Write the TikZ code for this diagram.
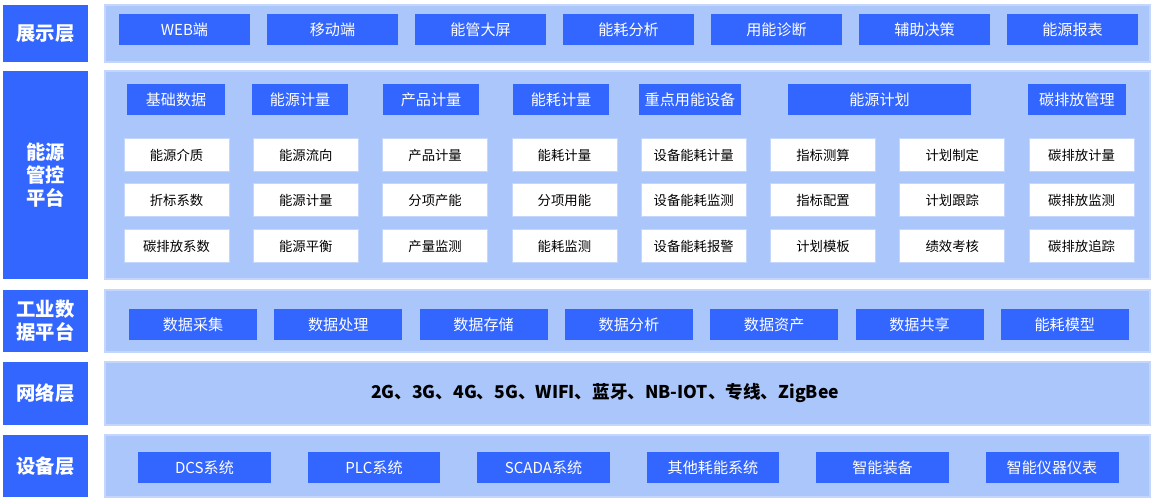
\documentclass[tikz,border=0pt]{standalone}
\usepackage{fontspec}
\setmainfont{Noto Sans CJK SC}
\definecolor{myBlue}{HTML}{3366FF}
\definecolor{myPanel}{HTML}{ABC6FB}
\definecolor{myEdge}{HTML}{C4D6FC}
\usetikzlibrary{positioning}
\tikzstyle{layer}=[fill=myBlue, text=white, font=\fontsize{11}{13}\selectfont\bfseries, align=center]
\tikzstyle{panel}=[fill=myPanel, draw=myEdge, line width=0.8pt]
\tikzstyle{btn}=[fill=myBlue, text=white, font=\fontsize{8.6}{10}\selectfont, minimum height=0.62cm, inner sep=0pt]
\tikzstyle{cell}=[fill=white, draw=myEdge, text=black, font=\fontsize{7.6}{9}\selectfont, minimum width=2.1cm, minimum height=0.66cm, inner sep=0pt]

\begin{document}
\begin{tikzpicture}[x=0.02cm, y=-0.02cm]
  \useasboundingbox (0,0) rectangle (1152,500);

  % 左侧层名
  \foreach \name/\txt/\ya/\yb in {L1/展示层/5/62, L2/能源\\管控\\平台/71/279, L3/工业数\\据平台/290/352, L4/网络层/362/425, L5/设备层/435/497}{
    \fill[myBlue] (3,\ya) rectangle (88,\yb);
    \node[layer] (\name) at (45.5,{(\ya+\yb)/2}) {\txt};
    \draw[panel] (105,\ya) rectangle (1150,\yb);
  }

  % 展示层
  \foreach \i/\txt in {0/WEB端, 1/移动端, 2/能管大屏, 3/能耗分析, 4/用能诊断, 5/辅助决策, 6/能源报表}
    \node[btn, minimum width=2.62cm] (S\i) at ({184.5+148*\i},29.5) {\txt};

  % 能源管控平台
  \foreach \name/\txt/\xa/\xb in {E1/基础数据/127/225, E2/能源计量/252/348, E3/产品计量/383/479, E4/能耗计量/513/609, E5/重点用能设备/639/741, E6/能源计划/788/971, E7/碳排放管理/1028/1126}
    \node[btn, minimum width={(\xb-\xa)*0.02cm}] (\name) at ({(\xa+\xb)/2},99.5) {\txt};

  \foreach \row/\y/\list in {
      1/155/{能源介质,能源流向,产品计量,能耗计量,设备能耗计量,指标测算,计划制定,碳排放计量},
      2/200/{折标系数,能源计量,分项产能,分项用能,设备能耗监测,指标配置,计划跟踪,碳排放监测},
      3/246/{碳排放系数,能源平衡,产量监测,能耗监测,设备能耗报警,计划模板,绩效考核,碳排放追踪}}{
    \foreach \txt [count=\c from 0] in \list
      \node[cell] (C\row\c) at ({176.5+129.3*\c},\y) {\txt};
  }

  % 工业数据平台
  \foreach \i/\txt in {0/数据采集, 1/数据处理, 2/数据存储, 3/数据分析, 4/数据资产, 5/数据共享, 6/能耗模型}
    \node[btn, minimum width=2.56cm] (D\i) at ({193+145.3*\i},324.5) {\txt};

  % 网络层
  \node[font=\fontsize{10}{12}\selectfont\bfseries] (N) at (605,393.5) {2G、3G、4G、5G、WIFI、蓝牙、NB-IOT、专线、ZigBee};

  % 设备层
  \foreach \i/\txt in {0/DCS系统, 1/PLC系统, 2/SCADA系统, 3/其他耗能系统, 4/智能装备, 5/智能仪器仪表}
    \node[btn, minimum width=2.66cm] (V\i) at ({204.5+169.5*\i},467.5) {\txt};
\end{tikzpicture}
\end{document}
